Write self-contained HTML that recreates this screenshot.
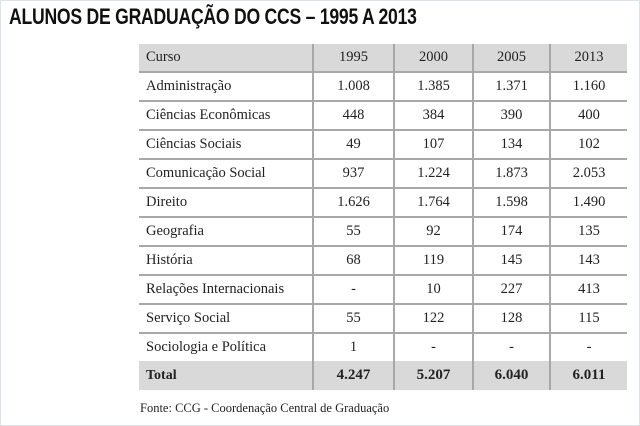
<!DOCTYPE html>
<html><head><meta charset="utf-8"><style>
body{margin:0;width:640px;height:426px;background:#fff;position:relative;overflow:hidden;font-family:"Liberation Serif",serif;}
.frame{position:absolute;left:0;top:0;width:638px;height:424px;border:1px solid #dde2e6;}
h1{position:absolute;left:9px;top:4px;margin:0;font-family:"Liberation Sans",sans-serif;font-weight:bold;font-size:22px;letter-spacing:-0.3px;transform:scaleX(0.8);transform-origin:left top;color:#111;white-space:nowrap;}
table{position:absolute;left:139px;top:44px;border-collapse:collapse;font-size:14.5px;color:#222;}
td{height:27px;padding:0;border-bottom:2px solid #a8a8a8;border-left:2px solid #a8a8a8;text-align:center;}
td:first-child{border-left:none;text-align:left;padding-left:7px;width:166px;}
td:nth-child(2){width:79px}td:nth-child(3){width:77px}td:nth-child(4){width:75px}td:nth-child(5){width:76px}
tr.h td,tr.t td{background:#d9d9d9;}
tr.t td{border-bottom:none;font-weight:bold;font-size:15px;height:29px}
tr.t td:first-child{font-size:14px}
tr:nth-last-child(2) td{border-bottom:none}
.f{position:absolute;left:140px;top:401px;font-size:12.5px;color:#222;}
</style></head><body><div class="frame"></div>
<h1>ALUNOS DE GRADUAÇÃO DO CCS – 1995 A 2013</h1>
<table>
<tr class="h"><td>Curso</td><td>1995</td><td>2000</td><td>2005</td><td>2013</td></tr>
<tr><td>Administração</td><td>1.008</td><td>1.385</td><td>1.371</td><td>1.160</td></tr>
<tr><td>Ciências Econômicas</td><td>448</td><td>384</td><td>390</td><td>400</td></tr>
<tr><td>Ciências Sociais</td><td>49</td><td>107</td><td>134</td><td>102</td></tr>
<tr><td>Comunicação Social</td><td>937</td><td>1.224</td><td>1.873</td><td>2.053</td></tr>
<tr><td>Direito</td><td>1.626</td><td>1.764</td><td>1.598</td><td>1.490</td></tr>
<tr><td>Geografia</td><td>55</td><td>92</td><td>174</td><td>135</td></tr>
<tr><td>História</td><td>68</td><td>119</td><td>145</td><td>143</td></tr>
<tr><td>Relações Internacionais</td><td>-</td><td>10</td><td>227</td><td>413</td></tr>
<tr><td>Serviço Social</td><td>55</td><td>122</td><td>128</td><td>115</td></tr>
<tr><td>Sociologia e Política</td><td>1</td><td>-</td><td>-</td><td>-</td></tr>
<tr class="t"><td>Total</td><td>4.247</td><td>5.207</td><td>6.040</td><td>6.011</td></tr>
</table>
<div class="f">Fonte: CCG - Coordenação Central de Graduação</div>
</body></html>
